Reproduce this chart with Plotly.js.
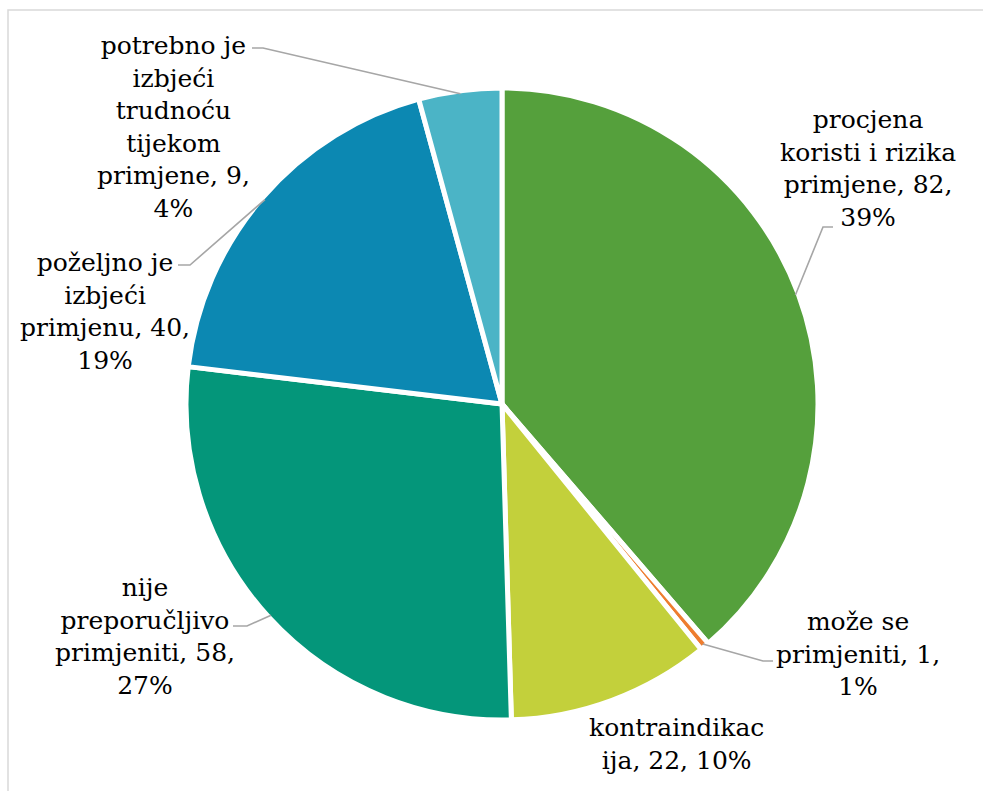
<!DOCTYPE html>
<html>
<head>
<meta charset="utf-8">
<script src="https://cdn.plot.ly/plotly-3.0.1.min.js"></script>
<style>
html,body{margin:0;padding:0;background:#fff;}
#chart{width:983px;height:791px;}
</style>
</head>
<body>
<div id="chart"></div>
<script>
// ---- data ----
const categories = [
  "procjena koristi i rizika primjene",
  "može se primjeniti",
  "kontraindikacija",
  "nije preporučljivo primjeniti",
  "poželjno je izbjeći primjenu",
  "potrebno je izbjeći trudnoću tijekom primjene"
];
const values = [82, 1, 22, 58, 40, 9];
const percentLabels = ["39%", "1%", "10%", "27%", "19%", "4%"];
const labelLines = [
  ["procjena", "koristi i rizika", "primjene, 82,", "39%"],
  ["može se", "primjeniti, 1,", "1%"],
  ["kontraindikac", "ija, 22, 10%"],
  ["nije", "preporučljivo", "primjeniti, 58,", "27%"],
  ["poželjno je", "izbjeći", "primjenu, 40,", "19%"],
  ["potrebno je", "izbjeći", "trudnoću", "tijekom", "primjene, 9,", "4%"]
];

// ---- styling / layout ----
const colors = ["#55A03C", "#EE7D2F", "#C3D03B", "#04967A", "#0C88B2", "#4BB4C6"];
const W = 983, H = 791;
const cx = 502, cy = 404, R = 313;           // pie centre / radius in px
const Rdom = 316;                             // domain half-size (pie slightly shrinks for outline)
// label block centres (px) and leader elbows (px): [labelEndX, labelEndY, elbowX, elbowY] or null
const labelPos = [[868, 168], [858, 654], [676, 744], [145, 636], [105, 311], [173, 127]];
const leaders = [
  [833, 227, 823, 227],
  [773, 661, 763, 661],
  null,
  [233, 626, 247, 626],
  [178, 265, 190, 265],
  [252, 48, 263, 48]
];

const px = x => x / W;
const py = y => 1 - y / H;

const total = values.reduce((a, b) => a + b, 0);
let cum = 0;
const midAngles = values.map(v => { const m = (cum + v / 2) / total * 2 * Math.PI; cum += v; return m; });

const annotations = labelLines.map((lines, i) => ({
  x: px(labelPos[i][0]), y: py(labelPos[i][1]), xref: 'paper', yref: 'paper',
  text: lines.join('<br>'), showarrow: false, align: 'center',
  xanchor: 'center', yanchor: 'middle',
  font: {family: 'DejaVu Serif, serif', size: 25, color: '#000000'}
}));

const shapes = [{
  type: 'rect', xref: 'paper', yref: 'paper',
  x0: px(8), y0: py(10), x1: 1.02, y1: -0.02,
  line: {color: '#D9D9D9', width: 1.5}, fillcolor: 'rgba(0,0,0,0)'
}];
leaders.forEach((l, i) => {
  if (!l) return;
  const ex = cx + R * Math.sin(midAngles[i]);
  const ey = cy - R * Math.cos(midAngles[i]);
  shapes.push({
    type: 'path', xref: 'paper', yref: 'paper',
    path: `M ${px(l[0])} ${py(l[1])} L ${px(l[2])} ${py(l[3])} L ${px(ex)} ${py(ey)}`,
    line: {color: '#A6A6A6', width: 1.6}
  });
});

const trace = {
  type: 'pie',
  labels: categories,
  values: values,
  sort: false,
  direction: 'clockwise',
  rotation: 0,
  textinfo: 'none',
  hoverinfo: 'skip',
  showlegend: false,
  marker: {colors: colors, line: {color: '#FFFFFF', width: 5}},
  domain: {x: [px(cx - Rdom), px(cx + Rdom)], y: [py(cy + Rdom), py(cy - Rdom)]}
};

const layout = {
  width: W, height: H,
  margin: {l: 0, r: 0, t: 0, b: 0},
  paper_bgcolor: '#FFFFFF',
  showlegend: false,
  annotations: annotations,
  shapes: shapes
};

Plotly.newPlot('chart', [trace], layout, {displayModeBar: false, staticPlot: true});
</script>
</body>
</html>
